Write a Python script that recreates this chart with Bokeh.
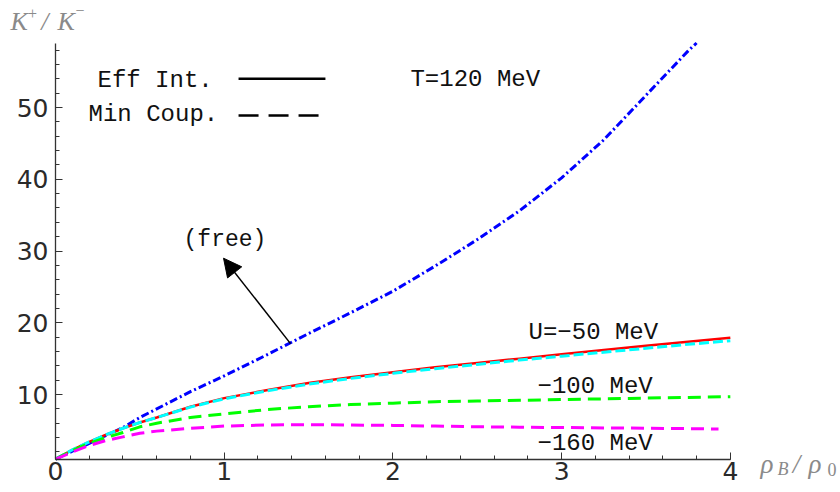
from bokeh.plotting import figure
from bokeh.models import Range1d, FixedTicker, Label, Arrow, NormalHead
from bokeh.embed import file_html
from bokeh.resources import INLINE

# ---------------- data ----------------
rho = [0, 0.1, 0.2, 0.3, 0.4, 0.5, 0.6, 0.8, 1.0, 1.25, 1.5, 1.75, 2.0,
       2.25, 2.5, 2.75, 3.0, 3.25, 3.5, 3.75, 4.0]
# free curve leaves the plotted region at about rho = 3.8
rho_free = [0, 0.1, 0.2, 0.3, 0.4, 0.5, 0.6, 0.8, 1.0, 1.25, 1.5, 1.75, 2.0,
            2.25, 2.5, 2.75, 3.0, 3.25, 3.5, 3.75, 3.8]
free = [1.0, 2.1, 3.2, 4.3, 5.4, 6.8, 8.0, 10.4, 12.6, 15.5, 18.5, 21.4, 24.4,
        27.9, 31.6, 35.6, 40.2, 45.5, 51.7, 57.9, 59.0]
eff_50 = [1.0, 2.3, 3.4, 4.4, 5.3, 6.1, 6.8, 8.3, 9.5, 10.6, 11.6, 12.4, 13.1,
          13.8, 14.4, 15.0, 15.6, 16.2, 16.8, 17.35, 17.9]
min_50 = [1.0, 2.3, 3.4, 4.4, 5.3, 6.1, 6.8, 8.25, 9.4, 10.5, 11.45, 12.25, 12.95,
          13.6, 14.2, 14.8, 15.35, 15.9, 16.45, 17.0, 17.5]
min_100 = [1.0, 2.2, 3.2, 4.0, 4.7, 5.5, 6.0, 6.8, 7.3, 7.9, 8.3, 8.6, 8.8,
           9.0, 9.1, 9.2, 9.3, 9.4, 9.5, 9.6, 9.7]
rho_160 = [0, 0.1, 0.2, 0.3, 0.4, 0.5, 0.6, 0.8, 1.0, 1.25, 1.5, 1.75, 2.0,
           2.25, 2.5, 2.75, 3.0, 3.25, 3.5, 3.75, 3.93]
min_160 = [1.0, 2.0, 2.9, 3.6, 4.1, 4.6, 4.9, 5.3, 5.6, 5.75, 5.8, 5.75, 5.7,
           5.6, 5.5, 5.45, 5.4, 5.35, 5.3, 5.25, 5.2]

x_ticks = [0, 1, 2, 3, 4]
x_minor = [round(i * 0.2, 1) for i in range(21)]
y_ticks = [10, 20, 30, 40, 50]
y_minor = list(range(2, 59, 2))

# ---------------- figure ----------------
p = figure(width=840, height=492, output_backend="svg", toolbar_location=None,
           x_range=Range1d(-0.326, 4.653), y_range=Range1d(-3.655, 64.92),
           min_border=0)
p.grid.visible = False
p.outline_line_color = None
p.background_fill_color = "white"
p.border_fill_color = "white"

tick_font = "DejaVu Sans"
for ax in (p.xaxis[0], p.yaxis[0]):
    ax.axis_line_color = "#333333"
    ax.axis_line_width = 1.3
    ax.major_tick_in = 7
    ax.major_tick_out = 0
    ax.minor_tick_in = 4
    ax.minor_tick_out = 0
    ax.major_tick_line_color = "#333333"
    ax.minor_tick_line_color = "#333333"
    ax.major_label_text_font = tick_font
    ax.major_label_text_font_size = "25px"
    ax.major_label_text_color = "#2a2a2a"
p.xaxis.ticker = FixedTicker(ticks=x_ticks, minor_ticks=x_minor)
p.yaxis.ticker = FixedTicker(ticks=y_ticks, minor_ticks=y_minor)
p.xaxis.bounds = (0, 4)
p.yaxis.bounds = (1, 58.9)
p.xaxis.fixed_location = 1
p.yaxis.fixed_location = 0
p.xaxis.major_label_standoff = 3
p.yaxis.major_label_standoff = 7

# ---------------- curves ----------------
p.line(rho_free, free, line_color="#0000FF", line_width=3, line_dash="8 3 2 3")
p.line(rho, eff_50, line_color="#FF0000", line_width=2.5)
p.line(rho, min_50, line_color="#00FFFF", line_width=3, line_dash="10 4")
p.line(rho, min_100, line_color="#00FF00", line_width=3, line_dash="13 7")
p.line(rho_160, min_160, line_color="#FF00FF", line_width=3, line_dash="13 7")

# ---------------- texts ----------------
mono = "Liberation Mono"

def lab(x, y, t, size="24px", font=mono, color="#111111", style="normal",
        baseline="middle"):
    p.add_layout(Label(x=x, y=y, text=t, text_font=font, text_font_size=size,
                       text_color=color, text_baseline=baseline, text_align="left",
                       text_font_style=style))

lab(0.249, 53.8, "Eff Int.")
lab(0.196, 49.0, "Min Coup.")
lab(2.104, 53.9, "T=120 MeV")
lab(0.759, 31.6, "(free)", size="23px")
lab(2.804, 18.7, "U=\u221250 MeV")
lab(2.857, 11.1, "\u2212100 MeV")
lab(2.857, 3.2, "\u2212160 MeV")

# legend sample lines
p.add_layout(Arrow(x_start=1.085, y_start=54.0, x_end=1.60, y_end=54.0,
                   start=None, end=None, line_color="black", line_width=2.5))
p.add_layout(Arrow(x_start=1.085, y_start=48.9, x_end=1.60, y_end=48.9,
                   start=None, end=None, line_color="black", line_width=2.5,
                   line_dash="20 10"))

# arrow to free curve
p.add_layout(Arrow(x_start=1.393, y_start=17.1, x_end=0.996, y_end=29.0,
                   line_color="black", line_width=1.5,
                   end=NormalHead(size=18, fill_color="black", line_color="black")))

# axis titles (K+/K- and rho_B/rho_0), grey italic serif pieces
serif = "Liberation Serif"
grey = "#8a8a8a"
big = "26px"
small = "16px"
lab(-0.267, 62.0, "K", size=big, font=serif, color=grey, style="italic", baseline="alphabetic")
lab(-0.163, 63.1, "+", size=small, font=serif, color=grey, baseline="alphabetic")
lab(-0.085, 62.0, "/", size=big, font=serif, color=grey, style="italic", baseline="alphabetic")
lab(0.012, 62.0, "K", size=big, font=serif, color=grey, style="italic", baseline="alphabetic")
lab(0.118, 63.5, "\u2212", size=small, font=serif, color=grey, baseline="alphabetic")

lab(4.179, 0.25, "\u03c1", size="27px", font=serif, color=grey, style="italic", baseline="alphabetic")
lab(4.279, -0.4, "B", size="18px", font=serif, color=grey, style="italic", baseline="alphabetic")
lab(4.37, 0.25, "/", size="27px", font=serif, color=grey, style="italic", baseline="alphabetic")
lab(4.463, 0.25, "\u03c1", size="27px", font=serif, color=grey, style="italic", baseline="alphabetic")
lab(4.576, -0.4, "0", size="18px", font=serif, color=grey, baseline="alphabetic")

open("out.html", "w").write(file_html(p, INLINE))
